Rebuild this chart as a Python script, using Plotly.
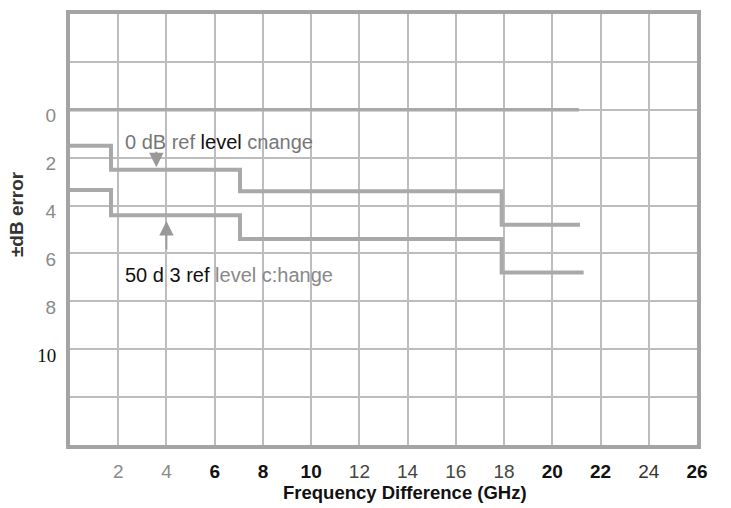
import plotly.graph_objects as go

# ---- data ----
step_freq = [0, 1.7, 7.05, 17.9]          # GHz where each step begins
err_0db_ref = [1.5, 2.5, 3.4, 4.8]         # ±dB error, 0 dB ref level change
err_50db_ref = [3.35, 4.4, 5.4, 6.8]       # ±dB error, 50 dB ref level change
end_0db_ref = 21.15
end_50db_ref = 21.3
zero_line_x = [0, 21.1]
zero_line_y = [0, 0]

x_tickvals = [2, 4, 6, 8, 10, 12, 14, 16, 18, 20, 22, 24, 26]
x_ticktext = [
    "<span style='color:#8a8a8a'>2</span>",
    "<span style='color:#8a8a8a'>4</span>",
    "<b>6</b>", "<b>8</b>", "<b>10</b>",
    "<span style='color:#444'>12</span>",
    "<span style='color:#444'>14</span>",
    "<span style='color:#444'>16</span>",
    "<span style='color:#444'>18</span>",
    "<b>20</b>", "<b>22</b>",
    "<span style='color:#333'>24</span>",
    "<b>26</b>",
]
y_tickvals = [-2, 0, 2, 4, 6, 8, 10, 12]
y_ticktext = ["", "0", "2", "4", "6", "8",
              "<span style='font-family:Liberation Serif;color:#111'>10</span>", ""]

line_col = "#a9a9a9"
grid_col = "#bdbdbd"

fig = go.Figure()
fig.add_trace(go.Scatter(x=zero_line_x, y=zero_line_y, mode="lines",
                         line=dict(color=line_col, width=3.5), showlegend=False))
fig.add_trace(go.Scatter(x=step_freq + [end_0db_ref], y=err_0db_ref + [err_0db_ref[-1]],
                         mode="lines", line=dict(color=line_col, width=4, shape="hv"),
                         showlegend=False))
fig.add_trace(go.Scatter(x=step_freq + [end_50db_ref], y=err_50db_ref + [err_50db_ref[-1]],
                         mode="lines", line=dict(color=line_col, width=4, shape="hv"),
                         showlegend=False))

fig.update_layout(
    width=731, height=508,
    margin=dict(l=70, r=34, t=10, b=63),
    paper_bgcolor="white", plot_bgcolor="white",
    font=dict(family="Liberation Sans, Arial, sans-serif", size=16, color="#888"),
    xaxis=dict(range=[0, 26], tickvals=x_tickvals, ticktext=x_ticktext,
               showgrid=True, gridcolor=grid_col, gridwidth=1.5,
               showline=True, linecolor="#a4a4a4", linewidth=4, mirror=True,
               ticks="outside", ticklen=6, tickcolor="rgba(0,0,0,0)",
               tickfont=dict(size=19, color="#111"), zeroline=False),
    yaxis=dict(range=[14, -4], tickvals=y_tickvals, ticktext=y_ticktext,
               showgrid=True, gridcolor=grid_col, gridwidth=1.5,
               showline=True, linecolor="#a4a4a4", linewidth=4, mirror=True,
               ticks="outside", ticklen=6, tickcolor="rgba(0,0,0,0)",
               ticklabelshift=-6,
               tickfont=dict(size=19, color="#8a8a8a"), zeroline=False),
    annotations=[
        dict(x=2.2, y=1.33, xref="x", yref="y", xanchor="left", yanchor="middle",
             showarrow=False, font=dict(size=20, color="#777"),
             text="0 dB ref <span style='color:#111'>level</span> cnange"),
        dict(x=2.2, y=6.92, xref="x", yref="y", xanchor="left", yanchor="middle",
             showarrow=False, font=dict(size=20, color="#888"),
             text="<span style='color:#111'>50 d 3 ref</span> level c:hange"),
        dict(x=3.58, y=2.4, ax=0, ay=-17, xref="x", yref="y", text="",
             showarrow=True, arrowhead=2, arrowsize=1.6, arrowwidth=1.8,
             arrowcolor="#999"),
        dict(x=4, y=4.65, ax=0, ay=30, xref="x", yref="y", text="",
             showarrow=True, arrowhead=2, arrowsize=1.6, arrowwidth=1.8,
             arrowcolor="#999"),
        dict(x=0.535, y=-0.11, xref="paper", yref="paper", xanchor="center",
             yanchor="middle", showarrow=False,
             text="<b>Frequency Difference (GHz)</b>",
             font=dict(size=18.5, color="#111")),
        dict(x=-0.085, y=0.535, xref="paper", yref="paper", xanchor="center",
             yanchor="middle", showarrow=False, textangle=-90,
             text="<b>±dB error</b>", font=dict(size=19, color="#333")),
    ],
)

fig.write_html("out.html")
